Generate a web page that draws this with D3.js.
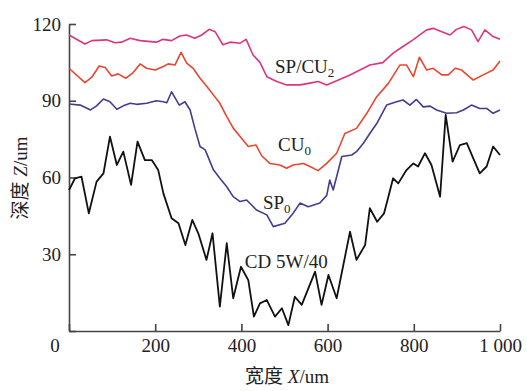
<!DOCTYPE html>
<html>
<head>
<meta charset="utf-8">
<script src="https://cdn.jsdelivr.net/npm/d3@7"></script>
<style>
  body { margin: 0; background: #fff; }
  svg text { font-family: "Liberation Serif", "Noto Sans CJK SC", serif; fill: #222; }
</style>
</head>
<body>
<svg id="chart" width="527" height="391"></svg>
<script>
// profile data, width X (um) vs depth Z (um)
const spcuX = [0,37,53,87,107,122,142,165,203,218,238,257,273,292,308,325,339,357,374,397,411,427,443,459,482,505,536,559,578,598,629,652,675,698,728,752,775,798,830,845,865,884,899,916,934,949,965,984,1000];
const spcuY = [115.7,112.2,113.5,113.8,112.7,112.9,114.4,113.5,112.9,114,113.5,115.3,115.7,114.4,115.7,117.9,117,111.9,112.9,112.5,114,107.9,105,99.4,97.5,96.2,96.2,96.9,97.5,96.2,98.4,100.1,102,104,104.9,108.6,111.2,113.8,117.7,118.3,117,115.7,117.9,119,117.7,113.1,117.7,115.1,114];

const cuX = [0,37,53,70,84,99,114,132,149,165,180,200,219,230,246,260,273,288,304,319,335,350,366,381,397,416,434,447,466,489,505,520,544,559,578,598,621,640,667,691,714,741,768,783,799,813,830,845,865,880,896,911,938,961,984,1000];
const cuY = [102.7,97.1,99.2,103.6,103,99.7,100.5,98.8,101,104.4,102.7,102,103.4,104.4,104,108.9,104.7,102.7,98.8,95.8,92.3,89,83.8,79.3,76,72.1,72.7,68.5,65.5,64.9,63.6,64.9,65.5,64.3,62.7,65.5,69.5,77.2,79.2,85.1,91.6,96.8,104,104,99.4,107,102,102.7,100.1,100.1,102.7,102,98.1,100.1,102,105.5];

const spX = [0,26,50,64,80,95,111,126,142,157,180,203,219,227,238,256,269,281,292,304,316,335,350,366,381,397,412,435,459,474,501,520,536,555,582,598,605,613,633,656,667,683,698,714,737,760,775,791,806,822,838,853,876,899,915,934,953,969,984,1000];
const spY = [88.7,88.3,86.4,88,90.7,89.6,86.7,88,89,88.6,89,90,89.6,89.2,93.5,88.3,89.6,86.4,79.2,72.1,70.8,63,59.7,56.4,52.5,50.6,51.2,47.3,45.4,40.8,42.1,46,50,48.6,50,53,59,55.1,68.2,68.8,70.1,73.4,77.2,81.1,88.3,89.6,90.3,88.3,90.5,87.6,87.9,86.4,85.1,85.3,86.4,88.3,87,87,85.1,86.4];

const cdX = [0,14,29,46,64,80,95,111,126,144,159,176,192,207,219,238,254,270,286,300,319,333,350,366,381,399,416,429,443,459,478,494,509,524,540,571,586,602,621,652,667,687,698,715,731,741,752,764,783,799,810,826,841,861,874,890,907,923,938,953,969,984,1000];
const cdY = [55.1,59.7,60.3,46,58.4,61.6,76,64.9,70.1,57.1,74,66.8,66.8,62.9,53.8,44.1,42.1,33.6,43.4,38.2,27.8,38.2,9.5,34.3,12.8,25.1,19.9,5.6,10.8,12.1,5.6,8.9,2.3,13.4,10.2,23.2,10.2,21.9,12.8,38.8,27.8,33.6,48,42.7,46,52.5,59.7,57.7,62.9,65.5,64.3,69.5,64.9,52.5,84.5,66.2,72.7,73.4,67.5,61.6,64.3,72.1,68.8];

const xTicks = [0,200,400,600,800,1000];
const yTicks = [0,30,60,90,120];

const series = [
  { name: "SP/CU", sub: "2", xs: spcuX, ys: spcuY, color: "#dd3580", at: [478, 100.9] },
  { name: "CU", sub: "0", xs: cuX, ys: cuY, color: "#e8462f", at: [485, 70.4] },
  { name: "SP", sub: "0", xs: spX, ys: spY, color: "#463b8f", at: [450, 47.7] },
  { name: "CD 5W/40", sub: "", xs: cdX, ys: cdY, color: "#111", at: [408, 24.6] }
];

const svg = d3.select("#chart");
const margin = { left: 69, right: 27, top: 24, bottom: 60 };
const width = 527 - margin.left - margin.right;
const height = 391 - margin.top - margin.bottom;

const g = svg.append("g").attr("transform", `translate(${margin.left},${margin.top})`);

const x = d3.scaleLinear().domain([0, 1000]).range([0, width]);
const y = d3.scaleLinear().domain([0, 120]).range([height, 0]);

// axes, ticks pointing inward
const xAxis = g.append("g")
  .attr("transform", `translate(0,${height})`)
  .call(d3.axisBottom(x).tickValues(xTicks).tickSizeInner(-7).tickSizeOuter(0).tickPadding(8)
    .tickFormat(d => d === 0 ? "" : d === 1000 ? "1 000" : d));
const yAxis = g.append("g")
  .call(d3.axisLeft(y).tickValues(yTicks).tickSizeInner(-7).tickSizeOuter(0).tickPadding(8)
    .tickFormat(d => d === 0 ? "" : d));

[xAxis, yAxis].forEach(a => {
  a.selectAll("path, line").attr("stroke", "#444").attr("stroke-width", 1.6);
  a.selectAll("text").attr("font-size", 19).attr("fill", "#222")
    .attr("font-family", "Liberation Serif, serif");
});

// shared origin label
g.append("text")
  .attr("x", x(0) - 14)
  .attr("y", height + 21)
  .attr("text-anchor", "middle")
  .attr("font-size", 19)
  .text("0");

// lines
const line = d3.line().x(d => x(d[0])).y(d => y(d[1]));
series.forEach(s => {
  const pts = s.xs.map((v, i) => [v, s.ys[i]]);
  g.append("path")
    .datum(pts)
    .attr("fill", "none")
    .attr("stroke", s.color)
    .attr("stroke-width", s.color === "#111" ? 1.8 : 1.6)
    .attr("stroke-linejoin", "round")
    .attr("d", line);

  const t = g.append("text")
    .attr("x", x(s.at[0]))
    .attr("y", y(s.at[1]))
    .attr("font-size", 19)
    .text(s.name);
  if (s.sub) {
    t.append("tspan").attr("font-size", 13).attr("dy", 4).text(s.sub);
  }
});

// axis titles
const xt = svg.append("text")
  .attr("x", 287)
  .attr("y", 383)
  .attr("text-anchor", "middle")
  .attr("font-size", 19);
xt.append("tspan").text("宽度 ");
xt.append("tspan").attr("font-style", "italic").text("X");
xt.append("tspan").text("/um");

const yt = svg.append("text")
  .attr("transform", "translate(27,178) rotate(-90)")
  .attr("text-anchor", "middle")
  .attr("font-size", 19);
yt.append("tspan").text("深度 ");
yt.append("tspan").attr("font-style", "italic").text("Z");
yt.append("tspan").text("/um");
</script>
</body>
</html>
